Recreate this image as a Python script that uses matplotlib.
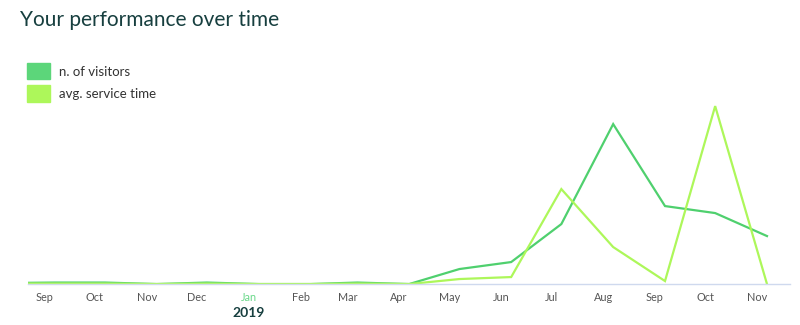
import datetime as dt
import matplotlib.pyplot as plt
import matplotlib.dates as mdates
from matplotlib.patches import Patch

# monthly samples (taken around the 7th of each month)
months = ["2018-08", "2018-09", "2018-10", "2018-11", "2018-12", "2019-01",
          "2019-02", "2019-03", "2019-04", "2019-05", "2019-06", "2019-07",
          "2019-08", "2019-09", "2019-10", "2019-11"]
visitors = [1, 1.5, 1.5, 0, 1.5, 0, 0, 1.5, 0, 15, 22, 60, 160, 78, 71, 48]
service_time = [0.5, 0.5, 0.5, 0, 0.5, 0, 0, 0.5, 0, 5, 7, 95, 37, 3, 178, 0]

tick_labels = ["Sep", "Oct", "Nov", "Dec", "Jan", "Feb", "Mar", "Apr",
               "May", "Jun", "Jul", "Aug", "Sep", "Oct", "Nov"]

dates = [dt.datetime.strptime(m + "-07", "%Y-%m-%d") for m in months]

green = "#4fd06e"
lime = "#adf75a"
dark = "#173f3f"

fig = plt.figure(figsize=(8, 3.25), dpi=100)
ax = fig.add_axes([0.035, 0.126, 0.953, 0.566])

ax.plot(dates, visitors, color=green, lw=1.6, solid_joinstyle="miter")
ax.plot(dates, service_time, color=lime, lw=1.6, solid_joinstyle="miter")

ax.set_xlim(dt.datetime(2018, 8, 22), dt.datetime(2019, 11, 21))
ax.set_ylim(0, 184)

tick_dates = [dt.datetime(2018, 9, 1)]
while len(tick_dates) < len(tick_labels):
    d = tick_dates[-1]
    tick_dates.append(dt.datetime(d.year + (d.month // 12), d.month % 12 + 1, 1))
ax.set_xticks(mdates.date2num(tick_dates))
ax.set_xticklabels(tick_labels, fontsize=7.8, color="#555555", family="Lato")
ax.tick_params(axis="x", length=0, pad=6)
for lab in ax.get_xticklabels():
    if lab.get_text() == "Jan":
        lab.set_color("#6ad88a")
ax.set_yticks([])

for side in ["top", "right", "left"]:
    ax.spines[side].set_visible(False)
ax.spines["bottom"].set_color("#cfd9ee")
ax.spines["bottom"].set_linewidth(1)

# year marker under January
ax.text(mdates.date2num(dt.datetime(2019, 1, 1)), -0.155, "2019",
        transform=ax.get_xaxis_transform(), ha="center", va="center",
        fontsize=10, fontweight="bold", color=dark, family="Lato")

fig.text(0.025, 0.94, "Your performance over time", fontsize=15,
         color=dark, family="Lato", va="center")

handles = [Patch(color="#5cd67a", label="n. of visitors"),
           Patch(color=lime, label="avg. service time")]
fig.legend(handles=handles, loc="upper left", bbox_to_anchor=(0.034, 0.805),
           frameon=False, handlelength=1.7, handleheight=1.5,
           handletextpad=0.7, labelspacing=0.45, borderaxespad=0,
           borderpad=0, labelcolor="#333333", prop={"family": "Lato", "size": 9.5})

fig.savefig("out.png", dpi=100)
